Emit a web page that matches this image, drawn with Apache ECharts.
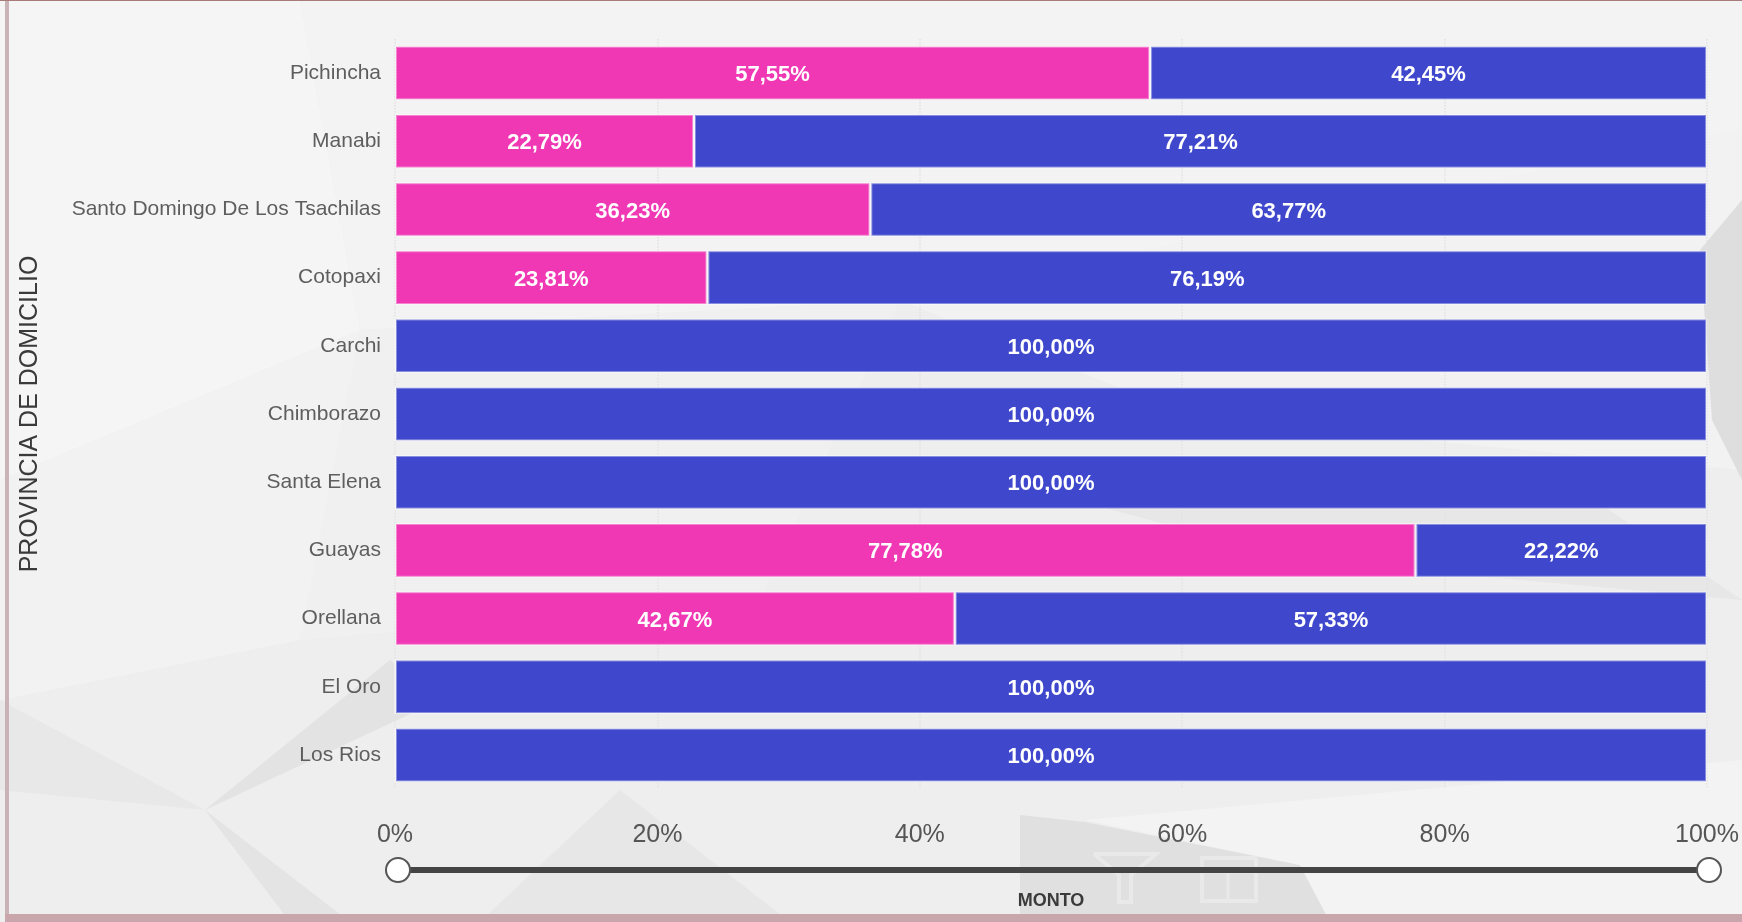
<!DOCTYPE html>
<html>
<head>
<meta charset="utf-8">
<title>Monto por provincia de domicilio</title>
<script src="https://cdn.jsdelivr.net/npm/echarts@6/dist/echarts.min.js"></script>
<style>
  html, body { margin: 0; padding: 0; background: #eeeeee; }
  #chart { width: 1742px; height: 922px; }
</style>
</head>
<body>
<div id="chart"></div>
<script>
// Provinces, top to bottom
const provincias = [
  'Pichincha', 'Manabi', 'Santo Domingo De Los Tsachilas', 'Cotopaxi', 'Carchi',
  'Chimborazo', 'Santa Elena', 'Guayas', 'Orellana', 'El Oro', 'Los Rios'
];
// Share of the amount (%) per province, two groups
const grupoRosa = [57.55, 22.79, 36.23, 23.81, 0, 0, 0, 77.78, 42.67, 0, 0];
const grupoAzul = [42.45, 77.21, 63.77, 76.19, 100, 100, 100, 22.22, 57.33, 100, 100];
// Value axis ticks
const ejeMin = 0, ejeMax = 100, ejeIntervalo = 20;

const FONT = 'Arial, "Liberation Sans", sans-serif';

const fmtPct = v => v.toFixed(2).replace('.', ',') + '%';

// Soft low-poly backdrop
const fondo = [
  { pts: [[0,0],[1742,0],[1742,922],[0,922]], c: '#eeeeee' },
  { pts: [[0,0],[300,0],[360,330],[0,480]], c: '#f5f5f5' },
  { pts: [[300,0],[1742,0],[1742,130],[900,300],[360,330]], c: '#f3f3f3' },
  { pts: [[360,330],[900,300],[760,600],[300,640]], c: '#f0f0f0' },
  { pts: [[0,480],[360,330],[300,640],[0,700]], c: '#f2f2f2' },
  { pts: [[900,300],[1742,130],[1742,470],[1200,420]], c: '#f2f2f2' },
  { pts: [[1700,250],[1742,200],[1742,480],[1712,420]], c: '#dedede' },
  { pts: [[1000,480],[1550,470],[1742,600],[1300,560]], c: '#e7e7e7' },
  { pts: [[0,700],[205,810],[0,790]], c: '#e8e8e8' },
  { pts: [[205,810],[390,660],[440,700]], c: '#e3e3e3' },
  { pts: [[205,810],[290,922],[350,922]], c: '#e4e4e4' },
  { pts: [[480,922],[620,790],[790,922]], c: '#e7e7e7' },
  { pts: [[1020,815],[1085,822],[1300,865],[1330,922],[1020,922]], c: '#e0e0e0' },
  { pts: [[1085,820],[1742,760],[1742,922],[1330,922],[1300,865]], c: '#f3f3f3' }
];

const graphics = fondo.map(p => ({
  type: 'polygon', silent: true, z: -10,
  shape: { points: p.pts },
  style: { fill: p.c }
}));

// Frame edges
graphics.push(
  { type: 'rect', silent: true, z: -5, shape: { x: 5, y: 0, width: 4, height: 922 }, style: { fill: '#c9b3b6' } },
  { type: 'rect', silent: true, z: -5, shape: { x: 5, y: 914, width: 1737, height: 8 }, style: { fill: '#c8a6ac' } },
  { type: 'rect', silent: true, z: -5, shape: { x: 0, y: 0, width: 1742, height: 1 }, style: { fill: '#a87a7a' } }
);

// Faint toolbar glyphs under the slider
graphics.push(
  { type: 'polyline', silent: true, z: -4,
    shape: { points: [[1094,854],[1156,854],[1131,875],[1131,902],[1119,902],[1119,875],[1094,854]] },
    style: { stroke: '#e9e9e9', lineWidth: 4, fill: null } },
  { type: 'rect', silent: true, z: -4,
    shape: { x: 1202, y: 858, width: 54, height: 43 },
    style: { stroke: '#e9e9e9', lineWidth: 4, fill: null } },
  { type: 'polyline', silent: true, z: -4,
    shape: { points: [[1202,872],[1256,872]] },
    style: { stroke: '#e9e9e9', lineWidth: 3 } },
  { type: 'polyline', silent: true, z: -4,
    shape: { points: [[1228,872],[1228,901]] },
    style: { stroke: '#e9e9e9', lineWidth: 3 } }
);

const chart = echarts.init(document.getElementById('chart'));

const barLabel = {
  show: true,
  position: 'inside',
  color: '#ffffff',
  fontFamily: FONT,
  fontSize: 22,
  fontWeight: 'bold',
  offset: [0, 2],
  formatter: p => (p.value > 0 ? fmtPct(p.value) : '')
};

chart.setOption({
  backgroundColor: 'transparent',
  animation: false,
  graphic: graphics,
  grid: { left: 395, right: 34, top: 39, bottom: 133 },
  xAxis: {
    type: 'value',
    min: ejeMin,
    max: ejeMax,
    interval: ejeIntervalo,
    name: 'MONTO',
    nameLocation: 'middle',
    nameGap: 103,
    nameTextStyle: { fontFamily: FONT, fontSize: 18, fontWeight: 'bold', color: '#3a3a3a' },
    axisLine: { show: false },
    axisTick: { show: false },
    axisLabel: {
      formatter: v => v + '%',
      fontFamily: FONT, fontSize: 25, color: '#555555', margin: 34
    },
    splitLine: { show: true, lineStyle: { type: 'dotted', color: '#e2e2e2', width: 1.5 } }
  },
  yAxis: {
    type: 'category',
    data: provincias,
    inverse: true,
    name: 'PROVINCIA DE DOMICILIO',
    nameLocation: 'middle',
    nameRotate: 90,
    nameGap: 352,
    nameTextStyle: { fontFamily: FONT, fontSize: 25, color: '#3a3a3a' },
    axisLine: { show: false },
    axisTick: { show: false },
    axisLabel: { fontFamily: FONT, fontSize: 21, color: '#5e5e5e', margin: 14 }
  },
  dataZoom: [{
    type: 'slider',
    xAxisIndex: 0,
    filterMode: 'none',
    start: 0,
    end: 100,
    left: 395,
    right: 34,
    top: 867,
    height: 6,
    showDataShadow: false,
    showDetail: false,
    brushSelect: false,
    moveHandleSize: 0,
    backgroundColor: 'transparent',
    borderColor: 'transparent',
    fillerColor: '#444444',
    handleIcon: 'circle',
    handleSize: 24,
    handleStyle: { color: '#ffffff', borderColor: '#555555', borderWidth: 2 },
    emphasis: { handleStyle: { color: '#ffffff', borderColor: '#555555', borderWidth: 2 } }
  }],
  series: [
    {
      name: 'Rosa',
      type: 'bar',
      stack: 'total',
      data: grupoRosa,
      barCategoryGap: '20%',
      itemStyle: { color: '#f038b5', borderColor: 'rgba(255,255,255,0.38)', borderWidth: 2 },
      label: barLabel
    },
    {
      name: 'Azul',
      type: 'bar',
      stack: 'total',
      data: grupoAzul,
      barCategoryGap: '20%',
      itemStyle: { color: '#3f48cc', borderColor: 'rgba(255,255,255,0.38)', borderWidth: 2 },
      label: barLabel
    }
  ]
});
</script>
</body>
</html>
